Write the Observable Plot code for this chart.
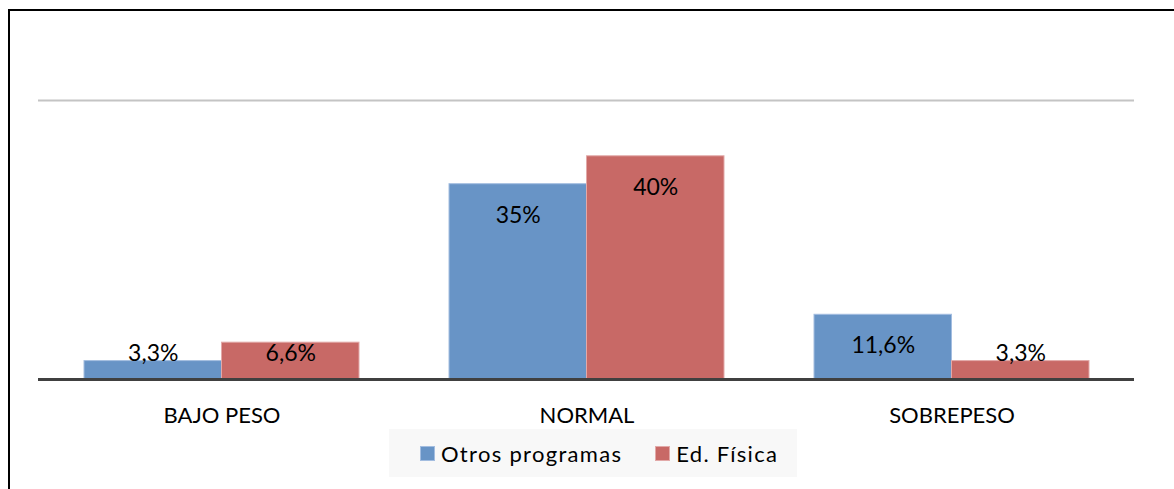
<!DOCTYPE html>
<html>
<head>
<meta charset="utf-8">
<script src="https://cdn.jsdelivr.net/npm/d3@7"></script>
<script src="https://cdn.jsdelivr.net/npm/@observablehq/plot@0.6"></script>
<style>
  html, body { margin: 0; padding: 0; background: #fff; }
  #wrap { position: relative; width: 1174px; height: 489px; overflow: hidden; font-family: Lato, "Open Sans", sans-serif; }
  #frame { position: absolute; left: 8px; top: 9px; width: 1200px; height: 520px; border-left: 2px solid #000; border-top: 2px solid #000; }
  #chart { position: absolute; left: 0; top: 0; }
  #legend { position: absolute; left: 389px; top: 429px; width: 408px; height: 48px; background: #f8f8f8;
            display: flex; align-items: center; padding-left: 31px; box-sizing: border-box; font-size: 22px; color: #000;
            white-space: nowrap; }
  .item { display: flex; align-items: center; margin-right: 33px; flex: 0 0 auto; }
  .item span:last-child { letter-spacing: 1.3px; white-space: nowrap; }
  .sw { width: 15px; height: 15px; margin-right: 6px; box-sizing: border-box; flex: 0 0 auto; }
</style>
</head>
<body>
<div id="wrap">
  <div id="frame"></div>
  <div id="chart"></div>
  <div id="legend"></div>
</div>
<script>
// Estado nutricional por grupo (porcentaje)
const categories = ["BAJO PESO", "NORMAL", "SOBREPESO"];
const series = ["Otros programas", "Ed. Física"];
const otrosProgramas = [3.3, 35, 11.6];
const edFisica = [6.6, 40, 3.3];
const yTicks = [0, 50];

const fills = {"Otros programas": "#6894c6", "Ed. Física": "#c86966"};
const edges = {"Otros programas": "#a3bde0", "Ed. Física": "#e2a9a8"};

const rows = [];
categories.forEach((c, i) => {
  rows.push({cat: c, serie: series[0], value: otrosProgramas[i]});
  rows.push({cat: c, serie: series[1], value: edFisica[i]});
});

const W = 1174, H = 445, ML = 38, MR = 40, MT = 100, MB = 66;
const pInner = 0.2473, pOuter = pInner / 2;
const step = (W - ML - MR) / categories.length;
const half = step * (1 - pInner) / 2;

const fmt = v => String(v).replace(".", ",") + "%";
const isLeft = d => d.serie === series[0];

const plot = Plot.plot({
  width: W,
  height: H,
  marginLeft: ML,
  marginRight: MR,
  marginTop: MT,
  marginBottom: MB,
  style: {fontFamily: "Lato, 'Open Sans', sans-serif", fontSize: "22px", color: "#000", background: "transparent"},
  x: {domain: categories, paddingInner: pInner, paddingOuter: pOuter, tickSize: 0, tickPadding: 28, label: null},
  y: {domain: [yTicks[0], yTicks[1]], axis: null},
  marks: [
    Plot.ruleY([yTicks[1]], {stroke: "#c4c4c4", strokeWidth: 2}),
    Plot.barY(rows.filter(isLeft), {x: "cat", y: "value", fill: fills[series[0]], stroke: edges[series[0]], strokeWidth: 1, insetRight: half}),
    Plot.barY(rows.filter(d => !isLeft(d)), {x: "cat", y: "value", fill: fills[series[1]], stroke: edges[series[1]], strokeWidth: 1, insetLeft: half}),
    Plot.ruleY([0], {stroke: "#404040", strokeWidth: 3}),
    // labels inside the bar end for tall bars
    Plot.text(rows.filter(d => d.value >= 10 && isLeft(d)), {x: "cat", y: "value", text: d => fmt(d.value), dx: -half / 2, dy: 31, fill: "#000", fontSize: 23}),
    Plot.text(rows.filter(d => d.value >= 10 && !isLeft(d)), {x: "cat", y: "value", text: d => fmt(d.value), dx: half / 2, dy: 31, fill: "#000", fontSize: 23}),
    // labels for short bars sit just above the baseline
    Plot.text(rows.filter(d => d.value < 10 && isLeft(d)), {x: "cat", y: 0, text: d => fmt(d.value), dx: -half / 2, dy: -26, fill: "#000", fontSize: 23}),
    Plot.text(rows.filter(d => d.value < 10 && !isLeft(d)), {x: "cat", y: 0, text: d => fmt(d.value), dx: half / 2, dy: -26, fill: "#000", fontSize: 23})
  ]
});
document.getElementById("chart").appendChild(plot);

const legend = document.getElementById("legend");
series.forEach(s => {
  const item = document.createElement("div");
  item.className = "item";
  const sw = document.createElement("span");
  sw.className = "sw";
  sw.style.background = fills[s];
  sw.style.border = "1px solid " + edges[s];
  const label = document.createElement("span");
  label.textContent = s;
  item.appendChild(sw);
  item.appendChild(label);
  legend.appendChild(item);
});
</script>
</body>
</html>
